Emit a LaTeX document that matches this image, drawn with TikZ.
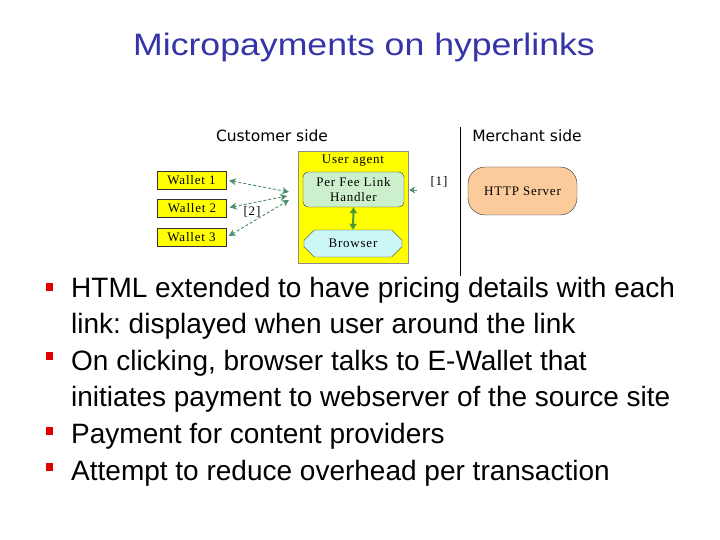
\documentclass[tikz,border=0pt]{standalone}
\usepackage{fontspec}
\setmainfont{Liberation Sans}
\newfontfamily\titlefont[FakeStretch=1.15]{Liberation Sans}
\newfontfamily\serfont[LetterSpace=6]{Liberation Serif}
\newfontfamily\verdfont{DejaVu Sans}
\usetikzlibrary{shapes.misc,arrows.meta}
\definecolor{titleblue}{HTML}{3535A8}
\definecolor{ylw}{HTML}{FFFF00}
\definecolor{handfill}{HTML}{CCF0CC}
\definecolor{brwfill}{HTML}{CCF7F7}
\definecolor{srvfill}{HTML}{FBCB9B}
\definecolor{arrgreen}{HTML}{4B8C6B}
\definecolor{solgreen}{HTML}{4A9A3A}
\definecolor{bulred}{HTML}{E00000}
\frenchspacing
\tikzset{
  sertext/.style={font=\serfont\fontsize{13}{15}\selectfont, inner sep=0pt},
  wallet/.style={draw=black!80, fill=ylw, minimum width=69pt, minimum height=18pt, inner sep=0pt, sertext},
  sidetext/.style={font=\verdfont\fontsize{15.5}{18}\selectfont, anchor=base, inner sep=0pt},
  dasharr/.style={draw=arrgreen, densely dashed, line width=0.9pt, {Stealth[length=7pt,width=7pt]}-{Stealth[length=7pt,width=7pt]}},
  bullettext/.style={font=\fontsize{28}{33}\selectfont, anchor=base west, inner sep=0pt},
  bulletbox/.style={fill=bulred, minimum width=7pt, minimum height=8pt, inner sep=0pt}
}
\begin{document}
\begin{tikzpicture}[x=1pt,y=-1pt]
\useasboundingbox[fill=white] (0,0) rectangle (720,540);
% title
\node[font=\titlefont\fontsize{31}{36}\selectfont, text=titleblue, anchor=base, inner sep=0pt] (title) at (364,56) {Micropayments on hyperlinks};
% side labels and divider
\node[sidetext] (cust) at (272,142) {Customer side};
\node[sidetext] (merch) at (527,142) {Merchant side};
\draw[line width=1pt] (460,127) -- (460,276);
% user agent
\node[draw=black!45, fill=ylw, minimum width=110pt, minimum height=112pt, inner sep=0pt] (ua) at (353.5,207) {};
\node[sertext] (ualabel) at (353,161) {User agent};
\node[draw=black!80, fill=handfill, rounded corners=5pt, minimum width=101pt, minimum height=35pt, inner sep=0pt, align=center, sertext] (hand) at (353.5,189.5) {Per Fee Link\\Handler};
\node[draw=black!80, fill=brwfill, chamfered rectangle, chamfered rectangle xsep=5pt, chamfered rectangle ysep=6pt, minimum width=98pt, minimum height=27pt, inner sep=0pt, sertext] (brw) at (353,243.5) {Browser};
\draw[solgreen, line width=2pt, {Triangle[length=6pt,width=7pt]}-{Triangle[length=6pt,width=7pt]}] (hand.south) -- (brw.north);
% server
\node[draw=black!80, fill=srvfill, rounded corners=17pt, minimum width=109pt, minimum height=48pt, inner sep=0pt, sertext] (srv) at (522.5,191) {HTTP Server};
% wallets
\node[wallet] (w1) at (191.5,180) {Wallet 1};
\node[wallet] (w2) at (192,208) {Wallet 2};
\node[wallet] (w3) at (191.5,237.5) {Wallet 3};
\coordinate (a1) at (289,192);
\coordinate (a2) at (287,196);
\coordinate (a3) at (289,200);
\draw[dasharr, shorten <=3pt] (w1.east) -- (a1);
\draw[dasharr, shorten <=3pt] (w2.east) -- (a2);
\draw[dasharr, shorten <=3pt] (w3.east) -- (a3);
\node[sertext] (lab2) at (252,212) {[2]};
\node[sertext] (lab1) at (439,182) {[1]};
\coordinate (r1) at (417,190);
\draw[arrgreen, line width=0.9pt, -{Stealth[length=6pt,width=7pt]}, shorten >=5pt] (r1) -- (hand.east |- r1);
% bullets
\node[bulletbox] (b1) at (49.5,287) {};
\node[bulletbox] (b2) at (49.5,356) {};
\node[bulletbox] (b3) at (49.5,431) {};
\node[bulletbox] (b4) at (49.5,467) {};
\node[bullettext] (t1a) at (71,297) {HTML extended to have pricing details with each};
\node[bullettext] (t1b) at (71,333) {link: displayed when user around the link};
\node[bullettext] (t2a) at (71,370) {On clicking, browser talks to E-Wallet that};
\node[bullettext] (t2b) at (71,406) {initiates payment to webserver of the source site};
\node[bullettext] (t3) at (71,443) {Payment for content providers};
\node[bullettext] (t4) at (71,480) {Attempt to reduce overhead per transaction};
\end{tikzpicture}
\end{document}
